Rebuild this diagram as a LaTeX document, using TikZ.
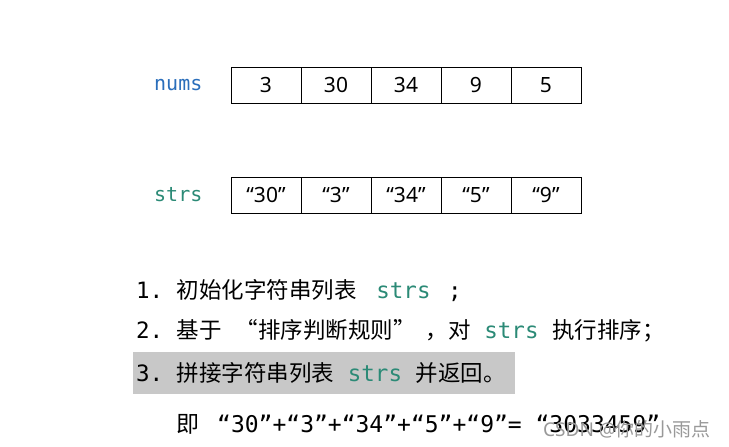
\documentclass[tikz,border=0pt]{standalone}
\usepackage{fontspec}
\setmainfont{Noto Sans}
\setmonofont{DejaVu Sans Mono}
\newfontfamily\cjk{Noto Sans CJK SC}
\definecolor{numblue}{HTML}{2A6EBB}
\definecolor{strteal}{HTML}{2B8A76}
\definecolor{hlgray}{HTML}{C8C8C8}
\begin{document}
\begin{tikzpicture}[x=1pt,y=-1pt,
  cell/.style={draw=black,line width=0.9pt,minimum width=70pt,minimum height=36pt,inner sep=0pt,font=\fontsize{21}{21}\selectfont},
  lbl/.style={font=\fontsize{20}{20}\ttfamily,anchor=west,inner sep=0pt},
  line/.style={anchor=west,inner sep=0pt,font=\fontsize{22.5}{22.5}\selectfont}]
\useasboundingbox (0,0) rectangle (729,447);
\fill[white] (0,0) rectangle (729,447);
\node[lbl,text=numblue] (numslbl) at (154,85) {nums};
\node[lbl,text=strteal] (strslbl) at (154,195) {strs};
\foreach \i/\v [count=\k] in {0/3,1/30,2/34,3/9,4/5}
  \node[cell] (n\k) at (266+70*\i,85) {\v};
\foreach \i/\v [count=\k] in {0/“30”,1/“3”,2/“34”,3/“5”,4/“9”}
  \node[cell] (s\k) at (266+70*\i,195) {\v};
\fill[hlgray] (133,352) rectangle (515,394);
\node[line] (l1) at (136,291) {\ttfamily 1.\ {\cjk 初始化字符串列表}\hspace{6pt}\ \textcolor{strteal}{strs}\ \hspace{4pt};};
\node[line] (l2) at (136,331) {\ttfamily 2.\ {\cjk 基于\hspace{14pt}“排序判断规则”\hspace{10pt}，对}\ \textcolor{strteal}{strs}\ {\cjk 执行排序；}};
\node[line] (l3) at (136,373) {\ttfamily 3.\ {\cjk 拼接字符串列表}\ \textcolor{strteal}{strs}\ {\cjk 并返回。}};
\node[line,font=\fontsize{23}{23}\selectfont] (l4) at (176,424) {{\cjk 即}\hspace{12pt}\ \ttfamily “30”+“3”+“34”+“5”+“9”=\ “3033459”};
\node[anchor=west,inner sep=0pt,text=black!40,font=\fontsize{19}{19}\selectfont] (wm) at (543,429) {CSDN @{\cjk 你的小雨点}};
\end{tikzpicture}
\end{document}
